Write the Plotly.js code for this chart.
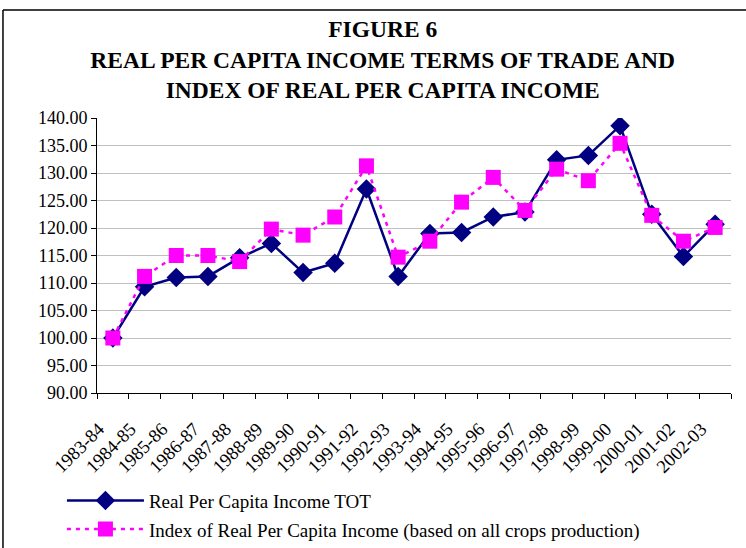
<!DOCTYPE html>
<html>
<head>
<meta charset="utf-8">
<script src="https://cdn.plot.ly/plotly-3.0.1.min.js"></script>
<style>
html, body { margin: 0; padding: 0; background: #fff; }
#chart { width: 746px; height: 548px; }
</style>
</head>
<body>
<div id="chart"></div>
<script>
const years = ["1983-84","1984-85","1985-86","1986-87","1987-88","1988-89","1989-90","1990-91","1991-92","1992-93","1993-94","1994-95","1995-96","1996-97","1997-98","1998-99","1999-00","2000-01","2001-02","2002-03"];
const totValues = [100.0, 109.3, 111.0, 111.2, 114.6, 117.2, 111.9, 113.6, 127.1, 111.2, 119.0, 119.2, 122.0, 122.9, 132.4, 133.2, 138.6, 122.5, 114.8, 120.7];
const indexValues = [100.0, 111.2, 115.0, 115.0, 113.9, 119.8, 118.7, 122.0, 131.3, 114.7, 117.6, 124.7, 129.2, 123.2, 130.7, 128.6, 135.4, 122.3, 117.6, 120.1];
const yTicks = [90,95,100,105,110,115,120,125,130,135,140];

const serif = "Liberation Serif";

const traces = [
  {
    x: years, y: totValues, name: "Real Per Capita Income TOT",
    type: "scatter", mode: "lines+markers", legendgroup: "a",
    line: {color: "#000080", width: 2.5},
    marker: {symbol: "diamond", size: 15, color: "#000080"}
  },
  {
    x: years, y: indexValues, name: "Index of Real Per Capita Income (based on all crops production)",
    type: "scatter", mode: "lines+markers", legendgroup: "b",
    line: {color: "#FF00FF", width: 2.5, dash: "4px,5px"},
    marker: {symbol: "square", size: 15, color: "#FF00FF"}
  }
];

const layout = {
  width: 746, height: 548,
  paper_bgcolor: "#fff", plot_bgcolor: "#fff",
  margin: {l: 97, r: 15, t: 118, b: 155, autoexpand: false},
  font: {family: serif, color: "#000", size: 17},
  title: {
    text: "<b>FIGURE 6<br>REAL PER CAPITA INCOME TERMS OF TRADE AND<br>INDEX OF REAL PER CAPITA INCOME</b>",
    font: {family: serif, size: 23.5, color: "#000"},
    x: 0.513, xanchor: "center", y: 0.932, yanchor: "top", yref: "container"
  },
  xaxis: {
    type: "category",
    tickangle: -45,
    tickfont: {family: serif, size: 18.5},
    ticklabelstandoff: 17,
    ticklabelshift: -14,
    showline: true, linecolor: "#000", linewidth: 1,
    ticks: "outside", ticklen: 5, tickcolor: "#000",
    tickson: "boundaries",
    showgrid: false, zeroline: false,
    automargin: false,
    range: [-0.5, 19.5]
  },
  yaxis: {
    range: [90, 140],
    tickvals: yTicks,
    ticktext: yTicks.map(v => v.toFixed(2)),
    tickfont: {family: serif, size: 18},
    showline: true, linecolor: "#000", linewidth: 1,
    ticks: "outside", ticklen: 5, tickcolor: "#000",
    showgrid: true, gridcolor: "#c0c0c0", gridwidth: 1,
    zeroline: false, automargin: false
  },
  showlegend: true,
  legend: {
    orientation: "v",
    x: -0.0553, xanchor: "left",
    y: -0.322, yanchor: "top",
    font: {family: serif, size: 19},
    itemwidth: 77,
    tracegroupgap: 1,
    bgcolor: "rgba(0,0,0,0)"
  },
  shapes: [
    {type: "line", xref: "paper", yref: "paper", x0: -0.1483, x1: 1.03, y0: 1.3927, y1: 1.3927, line: {color: "#000", width: 1.5}},
    {type: "line", xref: "paper", yref: "paper", x0: -0.1483, x1: -0.1483, y0: 1.3927, y1: -0.6, line: {color: "#000", width: 1.5}}
  ]
};

Plotly.newPlot("chart", traces, layout, {displayModeBar: false, staticPlot: true});
</script>
</body>
</html>
